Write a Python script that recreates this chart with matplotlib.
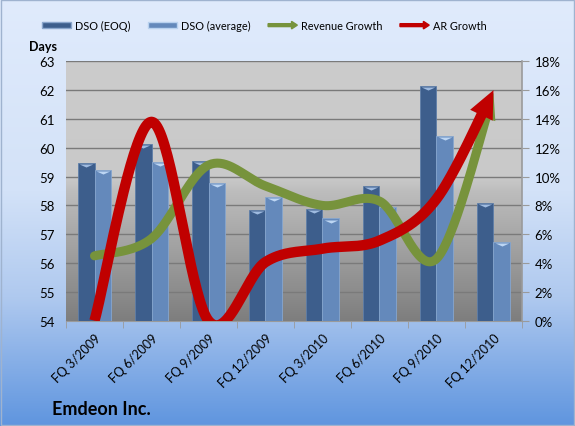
import numpy as np
import matplotlib
matplotlib.use("Agg")
import matplotlib.pyplot as plt
import matplotlib.patches as mpatches
from matplotlib.colors import LinearSegmentedColormap
from matplotlib.legend_handler import HandlerPatch

plt.rcParams['font.family'] = ['Lato', 'DejaVu Sans']

# data
quarters = ["FQ 3/2009", "FQ 6/2009", "FQ 9/2009", "FQ 12/2009",
            "FQ 3/2010", "FQ 6/2010", "FQ 9/2010", "FQ 12/2010"]
dso_eoq = [59.47, 60.13, 59.55, 57.84, 57.87, 58.67, 62.15, 58.10]
dso_avg = [59.24, 59.50, 58.77, 58.30, 57.55, 57.95, 60.40, 56.74]
revenue_growth = [4.5, 5.7, 10.8, 9.35, 8.0, 8.3, 4.3, 15.8]
ar_growth = [0.0, 13.8, 0.0, 4.07, 5.0, 5.56, 8.45, 16.0]

c_eoq = "#3d5e8c"
c_avg = "#6489bb"
c_rev = "#77933c"
c_ar = "#c00000"


def smooth(xs, ys, n=40):
    # excel-like smoothed line (bezier through the points)
    P = np.column_stack([xs, ys]).astype(float)
    m = len(P)
    out = []
    for i in range(m - 1):
        p0 = P[max(i - 1, 0)]
        p1 = P[i]
        p2 = P[i + 1]
        p3 = P[min(i + 2, m - 1)]
        b1 = p1 + (p2 - p0) / 6
        b2 = p2 - (p3 - p1) / 6
        t = np.linspace(0, 1, n)[:, None]
        seg = ((1 - t) ** 3) * p1 + 3 * ((1 - t) ** 2) * t * b1 + 3 * (1 - t) * t ** 2 * b2 + t ** 3 * p2
        out.append(seg if i == 0 else seg[1:])
    s = np.vstack(out)
    return s[:, 0], s[:, 1]


fig = plt.figure(figsize=(5.75, 4.27), dpi=100)

# figure background gradient
bg = fig.add_axes([0, 0, 1, 1], zorder=-10)
bg_cmap = LinearSegmentedColormap.from_list(
    "bg", [(0, "#e0ebfc"), (0.45, "#d3e2f8"), (0.7, "#afc9ef"), (1, "#5f95df")])
bg.imshow(np.linspace(0, 1, 256)[:, None], aspect="auto", cmap=bg_cmap,
          extent=[0, 1, 0, 1], origin="upper")
bg.set_xlim(0, 1)
bg.set_ylim(0, 1)
bg.axis("off")
bg.add_patch(mpatches.Rectangle((0.001, 0.002), 0.997, 0.995, fill=False,
                                edgecolor="#9fb3cf", lw=1))

ax = fig.add_axes([0.1148, 0.2466, 0.7930, 0.6074])
x = np.arange(len(quarters))

# plot-area gradient
pa_cmap = LinearSegmentedColormap.from_list(
    "pa", [(0, "#cccccc"), (0.45, "#c9c9c9"), (0.5, "#bdbdbd"), (1, "#7e7e7e")])
ax.imshow(np.linspace(0, 1, 256)[:, None], aspect="auto", cmap=pa_cmap,
          extent=[-0.5, 7.5, 54, 63], origin="upper", zorder=0)

w = 0.29
ax.bar(x - w / 2, np.array(dso_eoq) - 54, w, bottom=54, color=c_eoq,
       edgecolor="#5e7ea8", lw=0.6, zorder=3)
ax.bar(x + w / 2, np.array(dso_avg) - 54, w, bottom=54, color=c_avg,
       edgecolor="#86a6cf", lw=0.6, zorder=3)
# light bevel caps on the bars
cap = [(-1, 0), (1, 0), (0, -0.45), (-1, 0)]
ax.scatter(x - w / 2, np.array(dso_eoq) - 0.04, marker=cap, s=95, color="#9fbbe0", zorder=4, lw=0)
ax.scatter(x + w / 2, np.array(dso_avg) - 0.04, marker=cap, s=95, color="#bdd6f3", zorder=4, lw=0)

ax.set_xlim(-0.5, 7.5)
ax.set_ylim(54, 63)
ax.set_yticks(range(54, 64))
ax.yaxis.grid(True, color="#7a7a7a", lw=1)
for gl in ax.get_ygridlines():
    gl.set_zorder(1)
ax.tick_params(axis="y", length=0, labelsize=9.5, pad=8)
ax.set_xticks(x)
ax.set_xticklabels(quarters, rotation=45, ha="right", rotation_mode="anchor", fontsize=9)
ax.tick_params(axis="x", length=0, pad=8)
ax.set_xticks(np.arange(-0.5, 8, 1), minor=True)
ax.tick_params(axis="x", which="minor", length=5, color="#9a9a9a")
for s in ["top", "left", "right"]:
    ax.spines[s].set_visible(False)
ax.spines["bottom"].set_color("#9a9a9a")

ax2 = ax.twinx()
ax2.set_ylim(0, 18)
ax2.set_yticks(range(0, 19, 2))
ax2.set_yticklabels([f"{v}%" for v in range(0, 19, 2)])
ax2.tick_params(axis="y", length=5, color="#9a9a9a", labelsize=9.5, pad=4)
for s in ["top", "left", "bottom"]:
    ax2.spines[s].set_visible(False)
ax2.spines["right"].set_color("#9a9a9a")
ax2.spines["right"].set_linewidth(1.2)


def arrow_line(ys, color, lw, hl, hw, cap):
    sx, sy = smooth(x, ys)
    disp = ax2.transData.transform(np.column_stack([sx, sy]))
    tip = disp[-1]
    d = np.hypot(*(disp - tip).T)
    hl_px = hl * fig.dpi / 72
    k = np.where(d >= hl_px)[0][-1]
    keep = d >= hl_px * 0.5
    ax2.plot(sx[keep], sy[keep], color=color, lw=lw, solid_capstyle=cap, zorder=5)
    b = ax2.transData.inverted().transform(disp[k])
    ax2.add_patch(mpatches.FancyArrowPatch(
        tuple(b), (sx[-1], sy[-1]), arrowstyle=f"-|>,head_length={hl},head_width={hw}",
        mutation_scale=1, lw=0, color=color, shrinkA=0, shrinkB=0, zorder=5))


arrow_line(revenue_growth, c_rev, 6.5, 19, 7, "round")
arrow_line(ar_growth, c_ar, 7.5, 20, 9, "butt")

fig.text(0.05, 0.889, "Days", fontsize=9, fontweight="bold", ha="left", va="center")
fig.text(0.09, 0.04, "Emdeon Inc.", fontsize=13, fontweight="bold", ha="left", va="center")


def make_arrow(legend, orig_handle, xdescent, ydescent, width, height, fontsize):
    return mpatches.FancyArrow(-xdescent, height / 2 - ydescent, width, 0,
                               width=height * 0.5, head_width=height * 1.3,
                               head_length=height * 1.0, length_includes_head=True,
                               color=orig_handle.get_facecolor(), lw=0)


handles = [mpatches.Patch(facecolor=c_eoq, edgecolor="#8aa6cc"),
           mpatches.Patch(facecolor=c_avg, edgecolor="#b9d2ef"),
           mpatches.FancyArrow(0, 0, 1, 0, color=c_rev),
           mpatches.FancyArrow(0, 0, 1, 0, color=c_ar)]
labels = ["DSO (EOQ)", "DSO (average)", "Revenue Growth", "AR Growth"]
fig.legend(handles, labels, loc="center", bbox_to_anchor=(0.46, 0.938), ncol=4,
           frameon=False, fontsize=7.8, handlelength=2.7, handleheight=0.45,
           columnspacing=1.6, handletextpad=0.35,
           handler_map={mpatches.FancyArrow: HandlerPatch(patch_func=make_arrow)})

fig.savefig("out.png", dpi=100)
